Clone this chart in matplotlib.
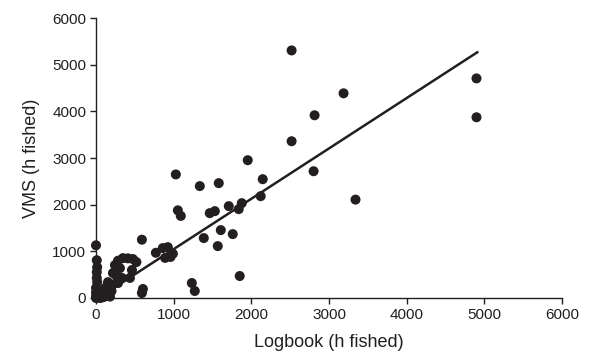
import numpy as np
import matplotlib.pyplot as plt

plt.rcParams['font.family'] = ['Liberation Sans', 'DejaVu Sans']

# Logbook hours vs VMS hours
logbook = [2519, 3188, 2815, 2519, 4900, 4900, 3342, 2802, 1954, 1028,
           1337, 1581, 2147, 2121, 1054, 1092, 1465, 1530, 1710, 1877,
           1838, 1607, 1388, 1761, 1568, 1851, 1234, 1272, 591, 604,
           591, 771, 860, 925, 890, 960, 990,
           0, 10, 15, 10, 10, 15, 0, 0, 0, 0, 30,
           283, 347, 411, 475, 244, 308, 218, 270, 154, 206,
           116, 77, 154, 283, 334, 463, 437, 520,
           40, 80, 120, 160, 200, 60, 100, 20, 180]
vms = [5310, 4390, 3919, 3362, 4710, 3876, 2110, 2719, 2955, 2650,
       2400, 2463, 2548, 2184, 1880, 1760, 1820, 1863, 1970, 2034,
       1906, 1456, 1285, 1370, 1113, 471, 321, 150, 1250, 193,
       107, 970, 1070, 1090, 860, 880, 950,
       1130, 810, 660, 555, 430, 340, 215, 120, 40, 0, 10,
       800, 855, 850, 835, 705, 640, 535, 450, 340, 280,
       215, 107, 128, 320, 430, 600, 430, 770,
       50, 30, 60, 90, 150, 0, 20, 80, 30]

# regression line end points
line_x = [30, 4910]
line_y = [0, 5270]

ink = '#231f20'

fig = plt.figure(figsize=(5.89, 3.55), dpi=100)
ax = fig.add_axes([0.163, 0.1606, 0.791, 0.788])

ax.scatter(logbook, vms, s=52, color=ink, edgecolors='none', zorder=3, clip_on=False)
ax.plot(line_x, line_y, color=ink, lw=1.8, zorder=2)

ax.set_xlim(0, 6000)
ax.set_ylim(0, 6000)
ax.set_xticks(np.arange(0, 6001, 1000))
ax.set_yticks(np.arange(0, 6001, 1000))
for side in ('top', 'right'):
    ax.spines[side].set_visible(False)
for side in ('left', 'bottom'):
    ax.spines[side].set_color(ink)
    ax.spines[side].set_linewidth(1.0)
ax.tick_params(direction='out', length=4, width=1.0, color=ink,
               labelsize=11, labelcolor=ink, pad=3)

ax.set_xlabel('Logbook (h fished)', fontsize=13, color=ink, labelpad=9)
ax.set_ylabel('VMS (h fished)', fontsize=13, color=ink, labelpad=9)

fig.savefig('out.png', dpi=100)
